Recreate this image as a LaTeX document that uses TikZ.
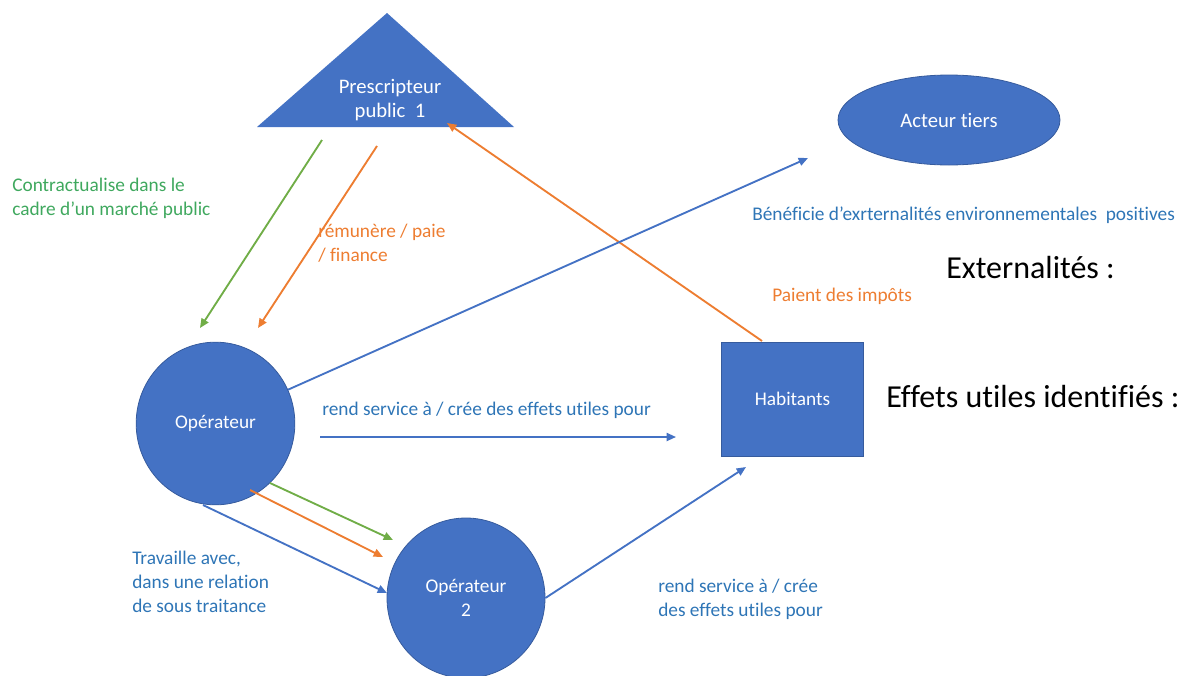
\documentclass[tikz,border=0pt]{standalone}
\usepackage{fontspec}
\setmainfont{Carlito}[Ligatures=NoCommon]
\usetikzlibrary{arrows.meta,shapes.geometric}
\definecolor{nodeblue}{HTML}{4472C4}
\definecolor{lineblue}{HTML}{4472C4}
\definecolor{txtblue}{HTML}{2E75B6}
\definecolor{lgreen}{HTML}{70AD47}
\definecolor{tgreen}{HTML}{3FA85E}
\definecolor{lorange}{HTML}{ED7D31}
\tikzset{
  actor/.style={fill=nodeblue,draw=nodeblue!80!black,line width=0.6pt,text=white,font=\fontsize{14.5}{17}\selectfont,inner sep=0pt,align=center},
  link/.style={line width=1.4pt,-{Triangle[length=7pt,width=6pt]}},
  lbl/.style={anchor=west,align=left,inner sep=0pt,font=\fontsize{14.5}{18}\selectfont},
  big/.style={anchor=west,inner sep=0pt,font=\fontsize{24}{28}\selectfont}
}
\begin{document}
\begin{tikzpicture}[x=0.75pt,y=-0.75pt]
\useasboundingbox (0,0) rectangle (1184,675);

% actors
\fill[nodeblue] (387,13) -- (514,127) -- (257,127) -- cycle;
\node[actor,fill=none,draw=none,font=\fontsize{15.5}{18}\selectfont] (presc) at (390,100) {Prescripteur\\public~~1};
\node[actor,ellipse,minimum width=166.5pt,minimum height=67.5pt,font=\fontsize{15.5}{18}\selectfont] (tiers) at (949,120) {Acteur tiers};
\node[actor,ellipse,minimum width=119pt,minimum height=122pt] (op) at (215.5,423.5) {Opérateur};
\node[actor,ellipse,minimum width=118.5pt,minimum height=120pt] (op2) at (466,598) {Opérateur\\[1pt]2};
\node[actor,rectangle,minimum width=107pt,minimum height=85.5pt] (hab) at (792.5,399) {Habitants};

% connector end points
\coordinate (pg) at (322,140);
\coordinate (po) at (377,146);
\coordinate (pin) at (447,123);
\coordinate (opg) at (200,328);
\coordinate (opo) at (258,328);
\coordinate (tin) at (808,158);
\coordinate (hs) at (320,437);
\coordinate (he) at (676,437);
\coordinate (hin) at (746,467);
\coordinate (hout) at (762,341);
\coordinate (g2a) at (270,483);
\coordinate (g2b) at (393,540);
\coordinate (o2a) at (250,490);
\coordinate (o2b) at (383,557);
\coordinate (b2a) at (203,505);
\coordinate (b2b) at (387,593);

% connectors
\draw[link,lgreen] (pg) -- (opg);
\draw[link,lorange] (po) -- (opo);
\draw[link,lorange] (hout) -- (pin);
\draw[link,lineblue] (op.25) -- (tin);
\draw[link,lineblue] (hs) -- (he);
\draw[link,lgreen] (g2a) -- (g2b);
\draw[link,lorange] (o2a) -- (o2b);
\draw[link,lineblue] (b2a) -- (b2b);
\draw[link,lineblue] (op2.east) -- (hin);

% labels
\node[lbl,text=tgreen] (l1) at (12,198) {Contractualise dans le\\cadre d’un marché public};
\node[lbl,text=lorange] (l2) at (318,243) {rémunère / paie\\/ finance};
\node[lbl,text=txtblue] (l3) at (752,215) {Bénéficie d’exrternalités environnementales~~positives};
\node[lbl,text=lorange] (l4) at (772,296) {Paient des impôts};
\node[lbl,text=txtblue] (l5) at (322,410) {rend service à / crée des effets utiles pour};
\node[lbl,text=txtblue] (l6) at (132,582) {Travaille avec,\\dans une relation\\de sous traitance};
\node[lbl,text=txtblue] (l7) at (658,599) {rend service à / crée\\des effets utiles pour};
\node[big] (ext) at (946,268) {Externalités :};
\node[big] (eff) at (886,397) {Effets utiles identifiés :};
\end{tikzpicture}
\end{document}
